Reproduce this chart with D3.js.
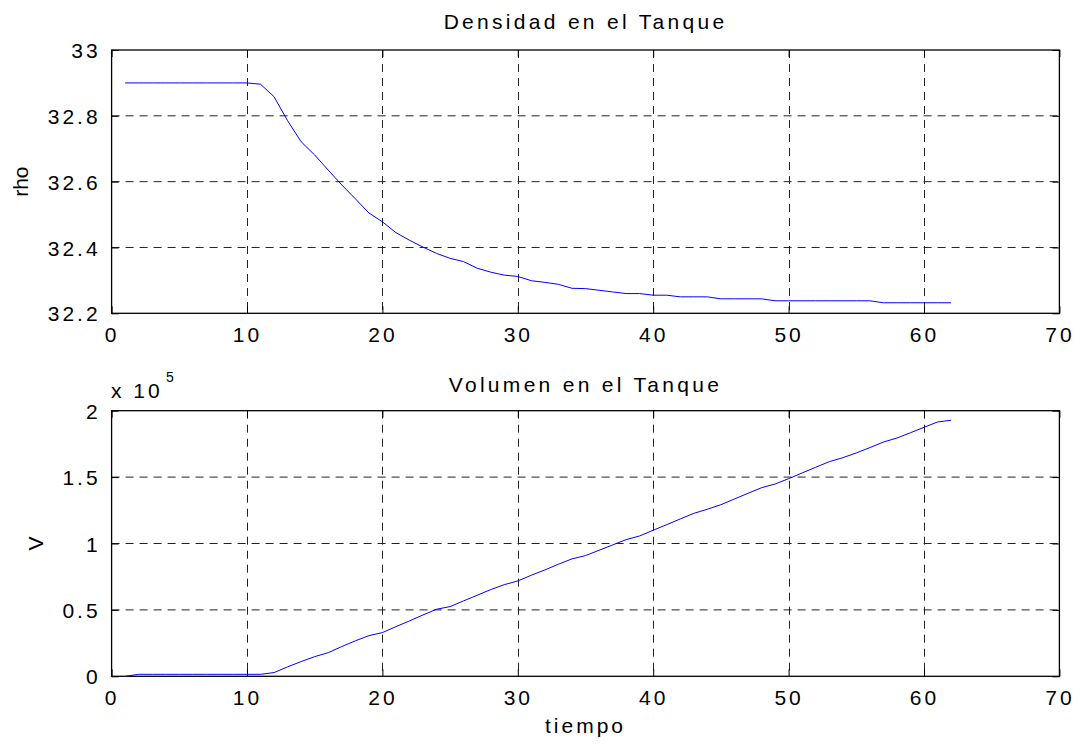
<!DOCTYPE html>
<html>
<head>
<meta charset="utf-8">
<script src="https://cdn.jsdelivr.net/npm/d3@7"></script>
<style>
  body { margin: 0; background: #fff; }
  text { font-family: "Liberation Sans", Arial, sans-serif; fill: #000; }
</style>
</head>
<body>
<div id="chart"></div>
<script>
// tiempo (x) shared by both plots
var tiempo = [1,2,3,4,5,6,7,8,9,10,11,12,13,14,15,16,17,18,19,20,21,22,23,24,25,26,27,28,29,30,
  31,32,33,34,35,36,37,38,39,40,41,42,43,44,45,46,47,48,49,50,51,52,53,54,55,56,57,58,59,60,61,62];

// density in the tank
var rho = [32.9,32.9,32.9,32.9,32.9,32.9,32.9,32.9,32.9,32.9,32.896,32.858,32.785,32.721,32.681,
  32.635,32.59,32.548,32.505,32.478,32.445,32.422,32.401,32.382,32.367,32.357,32.337,32.325,32.316,32.312,
  32.299,32.294,32.288,32.276,32.275,32.27,32.265,32.26,32.26,32.255,32.255,32.25,32.25,32.25,32.244,
  32.244,32.244,32.244,32.238,32.238,32.238,32.238,32.238,32.238,32.238,32.238,32.232,32.232,32.232,
  32.232,32.232,32.232];

// volume in the tank
var volumen = [0,1500,1500,1500,1500,1500,1500,1500,1500,1500,1500,2800,7100,11100,14800,17800,22400,
  26700,30600,32900,37400,41700,46200,50500,52500,56800,61000,65300,69000,71800,76100,80100,84400,
  88400,90900,94900,98900,102900,105700,110000,114200,118500,122700,125800,129200,133500,137800,
  142000,144800,148800,153100,157400,161600,164600,168200,172200,176400,179400,183400,187500,191500,192800];

var xTicks = [0,10,20,30,40,50,60,70];
var rhoTicks = [32.2,32.4,32.6,32.8,33];
var volTicks = [0,50000,100000,150000,200000];

var width = 1080, height = 744;
var left = 111.6, right = 1059.4;

var svg = d3.select("#chart").append("svg")
    .attr("width", width)
    .attr("height", height);

var x = d3.scaleLinear().domain([0, 70]).range([left, right]);

// draws one subplot (box, grid, ticks, labels, line)
function subplot(top, bottom, yDomain, yTicks, yFmt, ys, title, titleY, ylab, ylabX) {
  var y = d3.scaleLinear().domain(yDomain).range([bottom, top]);
  var g = svg.append("g");

  // grid lines
  g.selectAll(".vgrid").data(xTicks.slice(1, -1)).enter().append("line")
    .attr("x1", d => Math.round(x(d)) + 0.5).attr("x2", d => Math.round(x(d)) + 0.5)
    .attr("y1", top).attr("y2", bottom)
    .attr("stroke", "#222").attr("stroke-dasharray", "8,6");
  g.selectAll(".hgrid").data(yTicks.slice(1, -1)).enter().append("line")
    .attr("x1", left).attr("x2", right)
    .attr("y1", d => y(d)).attr("y2", d => y(d))
    .attr("stroke", "#222").attr("stroke-dasharray", "8,6");

  // axes with inward ticks
  var ax = g.append("g").attr("transform", "translate(0," + bottom + ")")
    .call(d3.axisBottom(x).tickValues(xTicks).tickSize(-7).tickPadding(14).tickFormat(d3.format("d")));
  var axT = g.append("g").attr("transform", "translate(0," + top + ")")
    .call(d3.axisTop(x).tickValues(xTicks).tickSize(-7).tickFormat(""));
  var ay = g.append("g").attr("transform", "translate(" + left + ",0)")
    .call(d3.axisLeft(y).tickValues(yTicks).tickSize(-7).tickPadding(14).tickFormat(yFmt));
  var ayR = g.append("g").attr("transform", "translate(" + right + ",0)")
    .call(d3.axisRight(y).tickValues(yTicks).tickSize(-7).tickFormat(""));
  [ax, axT, ay, ayR].forEach(function(a) {
    a.select(".domain").remove();
    a.selectAll(".tick line").attr("stroke", "#000");
  });
  ax.selectAll("text").style("font-size", "21px").style("letter-spacing", "3px").attr("dy", "0.71em");
  ay.selectAll("text").style("font-size", "21px").style("letter-spacing", "3px").attr("dy", "0.36em").attr("dx", "3px");

  // box
  g.append("rect").attr("x", left).attr("y", top)
    .attr("width", right - left).attr("height", bottom - top)
    .attr("fill", "none").attr("stroke", "#000").attr("stroke-width", 1.3);

  // data line
  var line = d3.line().x((d, i) => x(tiempo[i])).y(d => y(d));
  g.append("path").datum(ys)
    .attr("d", line)
    .attr("fill", "none").attr("stroke", "#0000ff").attr("stroke-width", 1);

  g.append("text").attr("x", (left + right) / 2).attr("y", titleY)
    .attr("text-anchor", "middle").style("font-size", "21px").style("letter-spacing", "3.3px")
    .text(title);

  g.append("text").attr("transform", "translate(" + ylabX + "," + (top + bottom) / 2 + ") rotate(-90)")
    .attr("text-anchor", "middle").style("font-size", "21px")
    .text(ylab);
  return y;
}

subplot(50, 313.3, [32.2, 33], rhoTicks, d3.format(""), rho,
  "Densidad en el Tanque", 29, "rho", 28);

subplot(410.7, 676.3, [0, 200000], volTicks, d => d / 100000, volumen,
  "Volumen en el Tanque", 392, "V", 43);

// exponent label
var ex = svg.append("text").attr("x", 111).attr("y", 398)
  .style("font-size", "21px").style("letter-spacing", "3px");
ex.append("tspan").text("x 10");
svg.append("text").attr("x", 166).attr("y", 382)
  .style("font-size", "14px").text("5");

// x axis label
svg.append("text").attr("x", (left + right) / 2).attr("y", 733)
  .attr("text-anchor", "middle").style("font-size", "21px").style("letter-spacing", "3px")
  .text("tiempo");
</script>
</body>
</html>
